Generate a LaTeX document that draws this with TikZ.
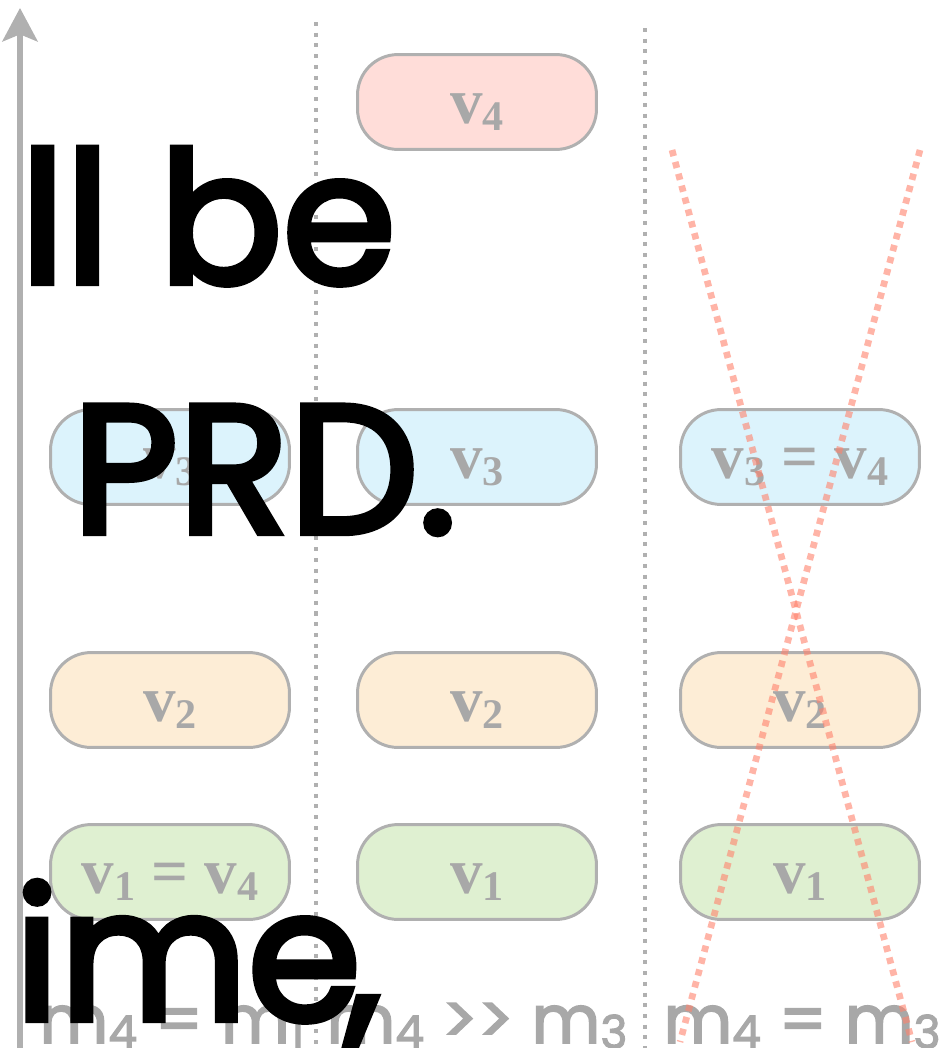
\documentclass[tikz,border=0pt]{standalone}
\usepackage{fontspec}
\setmainfont{Liberation Serif}
\newfontfamily\handfont{Poppins}[BoldFont=Poppins, BoldFeatures={FakeBold=3.5}]
\newfontfamily\massfont{Poppins}[BoldFont=Poppins, BoldFeatures={FakeBold=2.5}]
\usetikzlibrary{arrows.meta}
\definecolor{edgegray}{RGB}{176,176,176}
\definecolor{labelgray}{RGB}{168,168,168}
\definecolor{crossred}{RGB}{255,130,108}
\definecolor{fillv4}{RGB}{255,221,217}
\definecolor{fillv3}{RGB}{220,243,252}
\definecolor{fillv2}{RGB}{253,237,214}
\definecolor{fillv1}{RGB}{223,240,209}
\newcommand{\vv}[1]{v\raisebox{-4pt}{\fontsize{24}{24}\selectfont #1}}
\newcommand{\mm}[1]{m\raisebox{-3pt}{\fontsize{26}{26}\selectfont #1}}

\begin{document}
\begin{tikzpicture}[x=0.02cm, y=-0.02cm,
  level/.style={draw=edgegray, line width=1.7pt, rounded corners=23pt,
    minimum width=136pt, minimum height=54pt, inner sep=0pt,
    text height=24pt, text depth=0pt, text=labelgray,
    font=\fontsize{37}{37}\selectfont\bfseries},
  sep/.style={draw=edgegray, line width=2.3pt, dash pattern=on 2.3pt off 3.8pt},
  cross/.style={draw=crossred, draw opacity=0.6, line width=3.8pt, dash pattern=on 3.6pt off 3.4pt},
  mass/.style={text=labelgray, font=\massfont\bfseries\fontsize{38}{38}\selectfont, anchor=base, inner sep=0pt},
  hand/.style={font=\handfont\bfseries\fontsize{104}{104}\selectfont, anchor=base west, inner sep=0pt}]

\useasboundingbox (0,0) rectangle (939,1048);

% time axis and column separators
\coordinate (axisbot) at (20,1048);
\coordinate (axistop) at (20,8);
\draw[edgegray, line width=3.2pt, -{Stealth[length=19pt, width=20pt, inset=4pt]}] (axisbot) -- (axistop);
\foreach \x/\t in {316/22, 645/28} {
  \coordinate (sep\x top) at (\x,\t);
  \coordinate (sep\x bot) at (\x,1048);
  \draw[sep] (sep\x top) -- (sep\x bot);
}

% levels
\foreach \n/\x/\y/\c/\txt in {
  l3/170/457/fillv3/\vv{3}, l2/170/700/fillv2/\vv{2}, l1/170/872/fillv1/\vv{1} = \vv{4},
  m4/477/102/fillv4/\vv{4}, m3/477/457/fillv3/\vv{3}, m2/477/700/fillv2/\vv{2}, m1/477/872/fillv1/\vv{1},
  r3/800/457/fillv3/\vv{3} = \vv{4}, r2/800/700/fillv2/\vv{2}, r1/800/872/fillv1/\vv{1}}
  \node[level, fill=\c] (\n) at (\x,\y) {\txt};

\node[mass] (ml) at (172,1043) {\mm{4} = \mm{1}};
\node[mass] (mm) at (477,1043) {\mm{4} >> \mm{3}};
\node[mass] (mr) at (802,1043) {\mm{4} = \mm{3}};

% crossed out
\coordinate (xa) at (672,150);
\coordinate (xb) at (912,1042);
\coordinate (xc) at (920,150);
\coordinate (xd) at (680,1042);
\draw[cross] (xa) -- (xb);
\draw[cross] (xc) -- (xd);

\node[hand] (w1) at (20,283) {ll be};
\node[hand] (w2) at (72,533) {PRD.};
\node[hand] (w3) at (-68,1020) {t\kern9pt ime\kern-9pt,};
\end{tikzpicture}
\end{document}
